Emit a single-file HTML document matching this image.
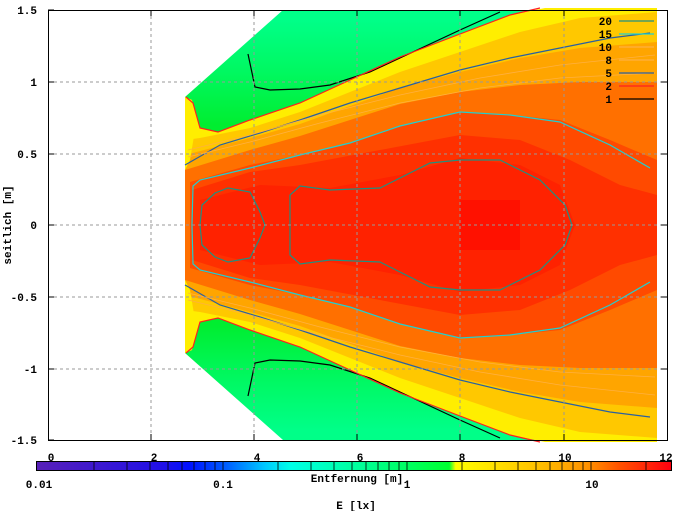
<!DOCTYPE html>
<html><head><meta charset="utf-8"><style>
html,body{margin:0;padding:0;background:#fff;}
svg{display:block;font-family:"Liberation Mono",monospace;font-weight:bold;font-size:11px;}
</style></head><body>
<svg width="677" height="511" viewBox="0 0 677 511" xmlns="http://www.w3.org/2000/svg">
<defs>
<linearGradient id="gr" gradientUnits="userSpaceOnUse" x1="0" y1="20" x2="0" y2="125">
<stop offset="0" stop-color="#00ff88"/><stop offset="0.5" stop-color="#00f860"/><stop offset="1" stop-color="#00ee30"/>
</linearGradient>
<linearGradient id="cb" x1="0" y1="0" x2="1" y2="0">
<stop offset="0" stop-color="#5820b8"/><stop offset="0.2" stop-color="#2010e8"/><stop offset="0.24" stop-color="#0010ff"/><stop offset="0.3" stop-color="#0060ff"/><stop offset="0.36" stop-color="#00c8ff"/><stop offset="0.4" stop-color="#00ffe8"/><stop offset="0.5" stop-color="#00ffa0"/><stop offset="0.65" stop-color="#00ff30"/><stop offset="0.66" stop-color="#ffff00"/><stop offset="0.79" stop-color="#ffc000"/><stop offset="0.87" stop-color="#ff9000"/><stop offset="0.92" stop-color="#ff5000"/><stop offset="1" stop-color="#ff0010"/>
</linearGradient>
<g id="half">
<path d="M185,97 L283,10 L657,10 L657,225 L185,225 Z" fill="url(#gr)"/>
<path d="M185,97 L192,100 L200,128 L218,132 L250,120 L300,103 L350,80 L400,57 L460,34 L510,15 L545,8 L657,8 L657,225 L185,225 Z" fill="#ffee00"/>
<path d="M185,140 L200,138 L250,128 L300,112 L350,92 L400,72 L460,52 L520,32 L580,18 L657,12 L657,225 L185,225 Z" fill="#ffc800"/>
<path d="M185,155 L250,138 L300,124 L350,106 L400,88 L460,72 L520,58 L580,48 L657,42 L657,225 L185,225 Z" fill="#ffa500"/>
<path d="M185,170 L250,150 L300,136 L350,120 L400,104 L460,92 L520,85 L580,82 L657,82 L657,225 L185,225 Z" fill="#ff7000"/>
<path d="M190,182 L250,165 L300,155 L350,143 L400,126 L460,112 L510,115 L560,120 L610,140 L657,160 L657,225 L190,225 Z" fill="#ff4a00"/>
<path d="M192,190 L250,172 L300,165 L380,150 L460,135 L520,140 L570,160 L620,185 L657,195 L657,225 L192,225 Z" fill="#ff3000"/>
<path d="M200,200 L260,185 L330,188 L400,175 L460,158 L520,165 L560,185 L575,225 L200,225 Z" fill="#ff2200"/>
<path d="M460,200 L520,200 L520,225 L460,225 Z" fill="#ff1100"/>
<path d="M185,97 L192,100 L195,130 L190,160 L185,170 Z" fill="#ffee00"/>
<g fill="none" stroke-width="1.2">
<path d="M248,54 L255,87 L270,90 L300,89 L330,85 L370,72 L400,58 L430,44 L460,30 L500,12" stroke="#000"/>
<path d="M186,97 L193,103 L200,128 L218,132 L250,120 L300,103 L350,80 L400,57 L460,34 L510,15 L540,8" stroke="#ff2020"/>
<path d="M185,165 L220,145 L260,133 L300,120 L350,103 L400,88 L460,70 L510,58 L560,48 L610,38 L650,33" stroke="#2a60a0"/>
<path d="M192,225 L193,186 L200,180 L250,168 L300,155 L350,143 L400,126 L460,112 L510,115 L560,122 L610,145 L650,168" stroke="#20d0d0"/>
<path d="M188,150 L250,135 L320,115 L400,95 L480,78 L560,65 L655,55" stroke="#ffb040" stroke-width="0.8"/>
<path d="M188,157 L250,142 L320,123 L400,103 L480,88 L560,78 L655,73" stroke="#ffb040" stroke-width="0.8"/>
<g stroke="#209080">
<path d="M200,225 L202,205 L215,193 L228,188 L250,192 L260,212 L265,225"/>
<path d="M290,225 L290,195 L300,186 L330,190 L380,188 L430,163 L460,160 L500,160 L540,180 L565,205 L572,225"/>
</g>
</g>
</g>
</defs>
<use href="#half"/>
<use href="#half" transform="translate(0,450) scale(1,-1)"/>
<g fill="none" stroke="#999" stroke-dasharray="3,3" stroke-width="1">
<path d="M151,10V440M254,10V440M357,10V440M460,10V440M564,10V440"/>
<path d="M48,82H667M48,154H667M48,225H667M48,297H667M48,369H667"/>
</g>
<rect x="48.5" y="10.5" width="619" height="430" fill="none" stroke="#000"/>
<g stroke="#000">
<path d="M48,10h6M48,82h6M48,154h6M48,225h6M48,297h6M48,369h6M48,440h6M667,82h-6M667,154h-6M667,225h-6M667,297h-6M667,369h-6"/>
<path d="M151,440v-6M254,440v-6M357,440v-6M460,440v-6M564,440v-6M151,10v6M254,10v6M357,10v6M460,10v6M564,10v6"/>
</g>
<g text-anchor="end">
<text x="37" y="14">1.5</text><text x="37" y="86">1</text><text x="37" y="158">0.5</text><text x="37" y="229">0</text><text x="37" y="301">-0.5</text><text x="37" y="373">-1</text><text x="37" y="444">-1.5</text>
</g>
<text transform="translate(11,225) rotate(-90)" text-anchor="middle">seitlich [m]</text>
<g text-anchor="end">
<text x="612" y="25">20</text><text x="612" y="38">15</text><text x="612" y="51">10</text><text x="612" y="64">8</text><text x="612" y="77">5</text><text x="612" y="90">2</text><text x="612" y="103">1</text>
</g>
<g stroke-width="1.2">
<path d="M619,21h35" stroke="#209080"/><path d="M619,34h35" stroke="#20d0d0"/><path d="M619,47h35" stroke="#ffb040"/><path d="M619,60h35" stroke="#ffb040"/><path d="M619,73h35" stroke="#2a60a0"/><path d="M619,86h35" stroke="#ff2020"/><path d="M619,99h35" stroke="#000"/>
</g>
<rect x="36.5" y="461.5" width="635" height="9" fill="url(#cb)" stroke="#000"/>
<g stroke="#000" stroke-width="0.8">
<path d="M94,462v9M127,462v9M150,462v9M168,462v9M182,462v9M194,462v9M205,462v9M215,462v9M223,462v9M278,462v9M311,462v9M334,462v9M352,462v9M366,462v9M378,462v9M389,462v9M399,462v9M407,462v9M462,462v9M495,462v9M518,462v9M536,462v9M550,462v9M562,462v9M573,462v9M583,462v9M591,462v9M646,462v9"/>
</g>
<g text-anchor="middle">
<text x="51" y="461">0</text><text x="154" y="461">2</text><text x="257" y="461">4</text><text x="360" y="461">6</text><text x="462" y="461">8</text><text x="565" y="461">10</text><text x="666" y="461">12</text>
<text x="39" y="488">0.01</text><text x="223" y="488">0.1</text><text x="407" y="488">1</text><text x="592" y="488">10</text>
<text x="357" y="482">Entfernung [m]</text>
<text x="356" y="509">E [lx]</text>
</g>
</svg>
</body></html>
